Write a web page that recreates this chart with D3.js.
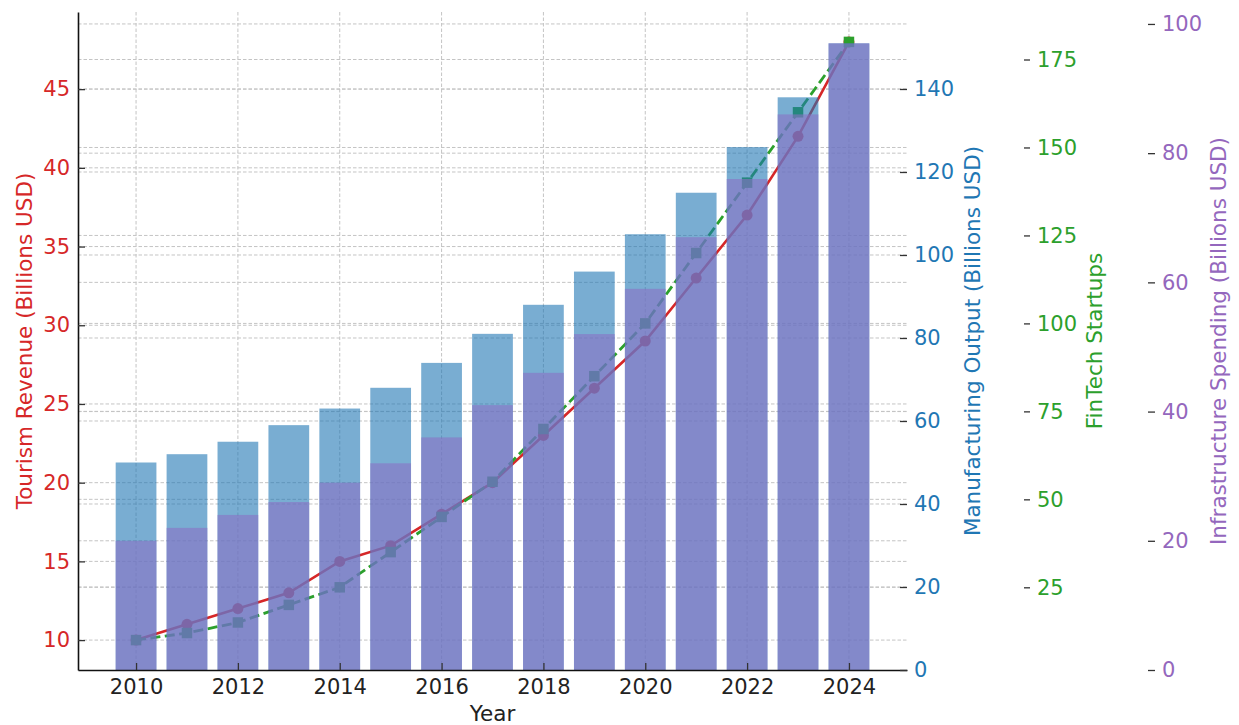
<!DOCTYPE html>
<html>
<head>
<meta charset="utf-8">
<script src="https://cdn.jsdelivr.net/npm/d3@7"></script>
<style>
  html, body { margin: 0; padding: 0; background: #fff; }
  svg { display: block; font-family: "DejaVu Sans", sans-serif; }
</style>
</head>
<body>
<svg id="chart" width="1239" height="725"></svg>
<script>
// ---------- data ----------
const years = [2010, 2011, 2012, 2013, 2014, 2015, 2016, 2017, 2018, 2019, 2020, 2021, 2022, 2023, 2024];
const tourismRevenue = [10, 11, 12, 13, 15, 16, 18, 20, 23, 26, 29, 33, 37, 42, 48];
const manufacturingOutput = [50, 52, 55, 59, 63, 68, 74, 81, 88, 96, 105, 115, 126, 138, 151];
const fintechStartups = [10, 12, 15, 20, 25, 35, 45, 55, 70, 85, 100, 120, 140, 160, 180];
const infrastructureSpending = [20, 22, 24, 26, 29, 32, 36, 41, 46, 52, 59, 67, 76, 86, 97];

const xTicks = [2010, 2012, 2014, 2016, 2018, 2020, 2022, 2024];
const tourismTicks = [10, 15, 20, 25, 30, 35, 40, 45];
const manufacturingTicks = [0, 20, 40, 60, 80, 100, 120, 140];
const fintechTicks = [25, 50, 75, 100, 125, 150, 175];
const infrastructureTicks = [0, 20, 40, 60, 80, 100];

// ---------- style ----------
const C = {
  red: "#d62728", blue: "#1f77b4", green: "#2ca02c", purple: "#9467bd",
  barBlue: "#1f77b4", barPurple: "#8a72c4", grid: "#c4c4c4", ink: "#222"
};
const L = 78, R = 907, T = 12, B = 670;
const tickFont = 21, labelFont = 21.5;

const svg = d3.select("#chart");

// ---------- scales ----------
const barW = 0.8;
const xlo = years[0] - barW / 2, xhi = years[years.length - 1] + barW / 2;
const xm = (xhi - xlo) * 0.05;
const x = d3.scaleLinear().domain([xlo - xm, xhi + xm]).range([L, R]);
const pxPerYear = x(1) - x(0);

function padDomain(vals) {
  const lo = d3.min(vals), hi = d3.max(vals), m = (hi - lo) * 0.05;
  return [lo - m, hi + m];
}
const yT = d3.scaleLinear().domain(padDomain(tourismRevenue)).range([B, T]);
const yM = d3.scaleLinear().domain([0, d3.max(manufacturingOutput) * 1.05]).range([B, T]);
const yF = d3.scaleLinear().domain(padDomain(fintechStartups)).range([B, T]);
const yI = d3.scaleLinear().domain([0, d3.max(infrastructureSpending) * 1.05]).range([B, T]);

// ---------- grid ----------
const grid = svg.append("g").attr("stroke", C.grid).attr("stroke-width", 1)
  .attr("stroke-dasharray", "3.5,2").attr("fill", "none");
xTicks.forEach(v => grid.append("line").attr("x1", x(v)).attr("x2", x(v)).attr("y1", T).attr("y2", B));
[[yT, tourismTicks], [yM, manufacturingTicks], [yF, fintechTicks], [yI, infrastructureTicks]].forEach(([s, ticks]) => {
  ticks.forEach(v => {
    const yy = s(v);
    if (yy < B - 1) grid.append("line").attr("x1", L).attr("x2", R).attr("y1", yy).attr("y2", yy);
  });
});

// ---------- lines (drawn below translucent bars) ----------
const lineT = d3.line().x((d, i) => x(years[i])).y(d => yT(d));
svg.append("path").datum(tourismRevenue).attr("d", lineT)
  .attr("fill", "none").attr("stroke", C.red).attr("stroke-width", 2.6);
svg.append("g").selectAll("circle").data(tourismRevenue).join("circle")
  .attr("cx", (d, i) => x(years[i])).attr("cy", d => yT(d)).attr("r", 5.5).attr("fill", C.red);

const lineF = d3.line().x((d, i) => x(years[i])).y(d => yF(d));
svg.append("path").datum(fintechStartups).attr("d", lineF)
  .attr("fill", "none").attr("stroke", C.green).attr("stroke-width", 2.8)
  .attr("stroke-dasharray", "10,4.5");
const sq = 10.5;
svg.append("g").selectAll("rect").data(fintechStartups).join("rect")
  .attr("x", (d, i) => x(years[i]) - sq / 2).attr("y", d => yF(d) - sq / 2)
  .attr("width", sq).attr("height", sq).attr("fill", C.green);

// ---------- bars ----------
const bw = pxPerYear * barW;
svg.append("g").selectAll("rect").data(manufacturingOutput).join("rect")
  .attr("x", (d, i) => x(years[i]) - bw / 2).attr("width", bw)
  .attr("y", d => yM(d)).attr("height", d => yM(0) - yM(d))
  .attr("fill", C.barBlue).attr("fill-opacity", 0.6);
svg.append("g").selectAll("rect").data(infrastructureSpending).join("rect")
  .attr("x", (d, i) => x(years[i]) - bw / 2).attr("width", bw)
  .attr("y", d => yI(d)).attr("height", d => yI(0) - yI(d))
  .attr("fill", C.barPurple).attr("fill-opacity", 0.6);

// ---------- axes ----------
function styleAxis(g, color, keepDomain) {
  g.selectAll("text").attr("fill", color).attr("font-size", tickFont)
    .attr("font-family", "DejaVu Sans, sans-serif");
  g.selectAll(".tick line").attr("stroke", "#333").attr("stroke-width", 1.3);
  if (!keepDomain) g.select(".domain").remove();
  else g.select(".domain").attr("stroke", "#111").attr("stroke-width", 1.6);
}

const axL = svg.append("g").attr("transform", `translate(${L},0)`)
  .call(d3.axisLeft(yT).tickValues(tourismTicks).tickSizeInner(-7).tickSizeOuter(0).tickPadding(8));
styleAxis(axL, C.red, true);

const axB = svg.append("g").attr("transform", `translate(0,${B})`)
  .call(d3.axisBottom(x).tickValues(xTicks).tickFormat(d3.format("d")).tickSizeInner(-7).tickSizeOuter(0).tickPadding(9));
styleAxis(axB, C.ink, true);

const axM = svg.append("g").attr("transform", `translate(${R},0)`)
  .call(d3.axisRight(yM).tickValues(manufacturingTicks).tickSizeInner(-7).tickSizeOuter(0).tickPadding(7));
styleAxis(axM, C.blue, false);

const axF = svg.append("g").attr("transform", `translate(1024,0)`)
  .call(d3.axisRight(yF).tickValues(fintechTicks).tickSizeInner(6).tickSizeOuter(0).tickPadding(7));
styleAxis(axF, C.green, false);

const axI = svg.append("g").attr("transform", `translate(1148,0)`)
  .call(d3.axisRight(yI).tickValues(infrastructureTicks).tickSizeInner(7).tickSizeOuter(0).tickPadding(7));
styleAxis(axI, C.purple, false);

// ---------- axis titles ----------
const midY = (T + B) / 2;
function vlabel(xp, text, color) {
  svg.append("text").attr("transform", `translate(${xp},${midY}) rotate(-90)`)
    .attr("text-anchor", "middle").attr("font-size", labelFont).attr("fill", color).text(text);
}
vlabel(31.5, "Tourism Revenue (Billions USD)", C.red);
vlabel(980, "Manufacturing Output (Billions USD)", C.blue);
vlabel(1102, "FinTech Startups", C.green);
vlabel(1226, "Infrastructure Spending (Billions USD)", C.purple);
svg.append("text").attr("x", (L + R) / 2).attr("y", 721).attr("text-anchor", "middle")
  .attr("font-size", labelFont).attr("fill", C.ink).text("Year");
</script>
</body>
</html>
